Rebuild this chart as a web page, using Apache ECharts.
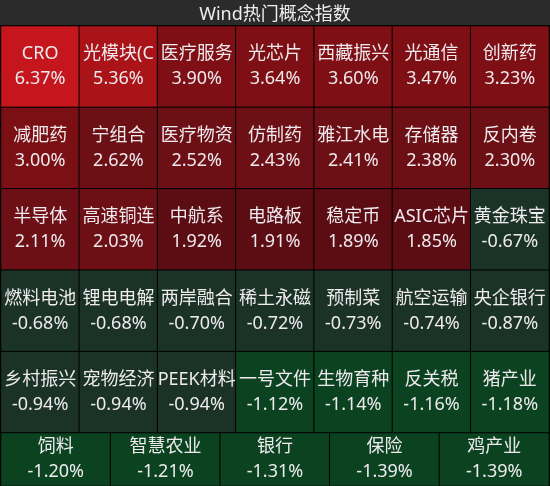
<!DOCTYPE html>
<html>
<head>
<meta charset="utf-8">
<script src="https://cdn.jsdelivr.net/npm/echarts@6/dist/echarts.min.js"></script>
<style>
  html, body { margin: 0; padding: 0; background: #000; }
  #chart { width: 550px; height: 486px; }
</style>
</head>
<body>
<div id="chart"></div>
<script>
// concept names, 7 per row for the first 5 rows
const gridNames = [
  ['CRO', '光模块(C', '医疗服务', '光芯片', '西藏振兴', '光通信', '创新药'],
  ['减肥药', '宁组合', '医疗物资', '仿制药', '雅江水电', '存储器', '反内卷'],
  ['半导体', '高速铜连', '中航系', '电路板', '稳定币', 'ASIC芯片', '黄金珠宝'],
  ['燃料电池', '锂电电解', '两岸融合', '稀土永磁', '预制菜', '航空运输', '央企银行'],
  ['乡村振兴', '宠物经济', 'PEEK材料', '一号文件', '生物育种', '反关税', '猪产业']
];
const gridValues = [
  [6.37, 5.36, 3.90, 3.64, 3.60, 3.47, 3.23],
  [3.00, 2.62, 2.52, 2.43, 2.41, 2.38, 2.30],
  [2.11, 2.03, 1.92, 1.91, 1.89, 1.85, -0.67],
  [-0.68, -0.68, -0.70, -0.72, -0.73, -0.74, -0.87],
  [-0.94, -0.94, -0.94, -1.12, -1.14, -1.16, -1.18]
];
// last row has 5 wider tiles
const lastNames = ['饲料', '智慧农业', '银行', '保险', '鸡产业'];
const lastValues = [-1.20, -1.21, -1.31, -1.39, -1.39];

const chart = echarts.init(document.getElementById('chart'));

const mainData = [];
gridValues.forEach((row, r) => {
  row.forEach((v, c) => {
    mainData.push({ name: gridNames[r][c], value: [c, r, v] });
  });
});
const lastData = lastValues.map((v, c) => ({ name: lastNames[c], value: [c, 0, v] }));

const FONT = '"Noto Sans", "Noto Sans CJK SC", sans-serif';

const label = {
  show: true,
  color: '#eeeaee',
  fontSize: 18,
  lineHeight: 25,
  fontFamily: FONT,
  formatter: p => p.name + '\n' + p.value[2].toFixed(2) + '%'
};

const option = {
  backgroundColor: '#000',
  animation: false,
  graphic: [{
    type: 'rect',
    left: 0, top: 0,
    shape: { width: 550, height: 25 },
    style: { fill: '#2b2b2b' },
    z: 0
  }],
  title: {
    text: 'Wind热门概念指数',
    left: 'center',
    top: 1,
    textStyle: { color: '#eeeeee', fontSize: 18, fontWeight: 'normal', fontFamily: FONT }
  },
  visualMap: {
    show: false,
    type: 'piecewise',
    dimension: 2,
    pieces: [
      { gte: 6, color: '#c4161c' },
      { gte: 5, lt: 6, color: '#aa1318' },
      { gte: 3.1, lt: 5, color: '#7e0f14' },
      { gte: 2.9, lt: 3.1, color: '#7b1014' },
      { gte: 2, lt: 2.9, color: '#6d1016' },
      { gte: 0, lt: 2, color: '#5c0d13' },
      { gte: -1, lt: 0, color: '#1b3327' },
      { lt: -1, color: '#0b4321' }
    ]
  },
  grid: [
    { left: 1, right: 1, top: 26, height: 407 },
    { left: 1, right: 1, top: 433, height: 59 }
  ],
  xAxis: [
    { type: 'category', gridIndex: 0, data: [0, 1, 2, 3, 4, 5, 6], show: false },
    { type: 'category', gridIndex: 1, data: [0, 1, 2, 3, 4], show: false }
  ],
  yAxis: [
    { type: 'category', gridIndex: 0, data: [0, 1, 2, 3, 4], inverse: true, show: false },
    { type: 'category', gridIndex: 1, data: [0], show: false }
  ],
  series: [
    {
      type: 'heatmap',
      xAxisIndex: 0, yAxisIndex: 0,
      data: mainData,
      label: label,
      itemStyle: { borderColor: '#000', borderWidth: 1 }
    },
    {
      type: 'heatmap',
      xAxisIndex: 1, yAxisIndex: 1,
      data: lastData,
      label: label,
      itemStyle: { borderColor: '#000', borderWidth: 1 }
    }
  ]
};

chart.setOption(option);
</script>
</body>
</html>
